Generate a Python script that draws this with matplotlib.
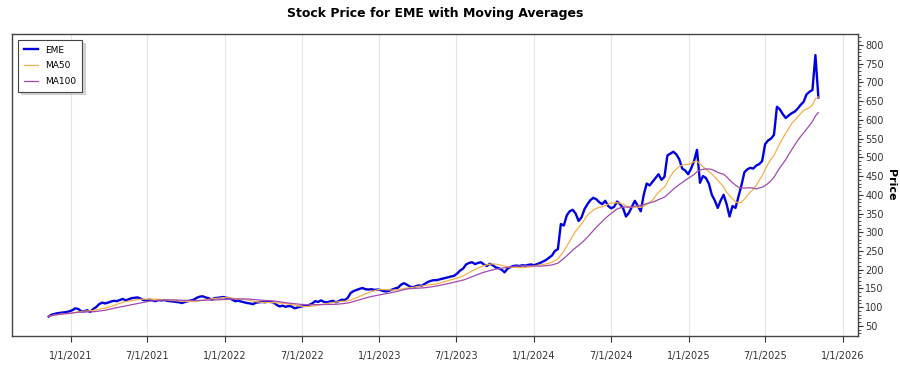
import matplotlib.pyplot as plt
import matplotlib.dates as mdates
from matplotlib.ticker import MultipleLocator, FuncFormatter
import pandas as pd

# weekly closes (Tuesdays)
start = "2020-11-10"
eme = [
    # 2020
    75, 80, 82, 84, 85, 86, 87, 89,
    # 2021
    92, 97, 95, 89,
    89, 92, 87, 95,
    100, 108, 112, 110, 112,
    115, 117, 116, 119,
    122, 118, 121, 124,
    125, 126, 123, 119, 118,
    120, 118, 116, 119,
    118, 119, 117, 116, 115,
    114, 113, 111, 114,
    116, 118, 120, 125,
    128, 129, 126, 124, 120,
    124, 125, 126, 127,
    # 2022
    125, 124, 120, 116,
    117, 115, 113, 111,
    110, 108, 112, 113, 114,
    113, 115, 114, 112,
    106, 102, 104, 101, 103,
    102, 97, 99, 101,
    103, 104, 106, 110,
    116, 114, 118, 114, 113,
    115, 117, 113, 116,
    120, 119, 125, 138,
    143, 146, 149, 151, 148,
    147, 148, 146, 147,
    # 2023
    146, 143, 142, 144, 147,
    150, 152, 160, 164,
    160, 155, 153, 156,
    158, 157, 162, 167,
    170, 172, 172, 174, 176,
    178, 180, 182, 184,
    190, 198, 203, 214,
    218, 220, 215, 218, 220,
    214, 210, 216, 212,
    206, 204, 200, 193, 203,
    207, 210, 211, 210,
    212, 211, 213, 214,
    # 2024
    212, 215, 218, 222, 226,
    232, 238, 250, 255,
    322, 318, 345, 356,
    360, 350, 330, 340, 362,
    375, 386, 392, 388,
    380, 375, 384, 370,
    364, 368, 382, 375, 365,
    342, 352, 368, 384,
    370, 356, 400, 430,
    425, 435, 445, 455, 440,
    448, 505, 510, 515,
    508, 495, 470, 465, 455,
    # 2025
    470, 490, 520, 432,
    450, 445, 430, 400,
    385, 365, 385, 400,
    375, 342, 370, 365, 395,
    425, 460, 468, 472,
    470, 478, 482, 490,
    535, 545, 550, 560, 635,
    628, 615, 605, 612,
    618, 622, 630, 640, 648,
    668, 675, 680, 773,
    660,
]

dates = pd.date_range(start, periods=len(eme), freq="7D")
price = pd.Series(eme, index=dates)
ma50 = price.rolling(10, min_periods=1).mean()
ma100 = price.rolling(20, min_periods=1).mean()

fig = plt.figure(figsize=(9, 3.75), dpi=100)
ax = fig.add_axes([0.0133, 0.104, 0.9397, 0.805])

ax.plot(price.index, price.values, color="#0000e0", lw=1.7, label="EME")
ax.plot(ma50.index, ma50.values, color="#f5b04a", lw=0.9, label="MA50")
ax.plot(ma100.index, ma100.values, color="#a24ab0", lw=0.9, label="MA100")

ax.set_xlim(pd.Timestamp("2020-08-15"), pd.Timestamp("2026-02-05"))
ax.set_ylim(23, 829)

ax.xaxis.set_major_locator(mdates.MonthLocator(bymonth=[1, 7]))
ax.xaxis.set_major_formatter(FuncFormatter(
    lambda v, p: (lambda d: f"{d.month}/{d.day}/{d.year}")(mdates.num2date(v))))
ax.tick_params(axis="x", direction="out", length=4, pad=7, labelsize=7, colors="#333333")
ax.grid(axis="x", color="#e4e4e4", lw=0.8)

ax.yaxis.tick_right()
ax.yaxis.set_label_position("right")
ax.yaxis.set_major_locator(MultipleLocator(50))
ax.yaxis.set_minor_locator(MultipleLocator(10))
ax.tick_params(axis="y", which="major", direction="out", length=3.5, pad=2, labelsize=7, colors="#333333")
ax.tick_params(axis="y", which="minor", direction="out", length=1.8, colors="#333333")
ax.set_ylabel("Price", rotation=270, labelpad=9, fontsize=8, fontweight="bold")

for s in ax.spines.values():
    s.set_color("#444444")
    s.set_linewidth(1.0)

ax.set_title("Stock Price for EME with Moving Averages", fontsize=9, fontweight="bold", pad=12)

leg = ax.legend(loc="upper left", fontsize=6.5, fancybox=False,
                shadow={"color": "#b0b0b0", "ox": 2, "oy": -2},
                handlelength=1.6, borderpad=0.6, labelspacing=0.75,
                bbox_to_anchor=(0.002, 0.995))
leg.get_frame().set_edgecolor("#444444")
leg.get_frame().set_linewidth(0.8)

fig.savefig("out.png", dpi=100)
